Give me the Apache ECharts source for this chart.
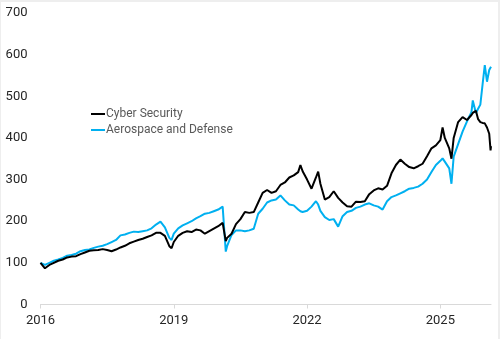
<!DOCTYPE html>
<html><head><meta charset="utf-8">
<script src="https://cdn.jsdelivr.net/npm/echarts@6/dist/echarts.min.js"></script>
<style>
html,body{margin:0;padding:0;background:#eeeeee;}
#frame{position:absolute;left:1px;top:2px;width:497px;height:337px;background:#fff;}
#chart{position:absolute;left:-1px;top:-2px;width:500px;height:339px;}
</style></head>
<body><div id="frame"><div id="chart"></div></div>
<script>
// Decimal years of the sampled points
const dates = [
 2016.0,2016.1,2016.2,2016.3,2016.4,2016.5,2016.6,2016.7,2016.8,2016.9,
 2017.0,2017.1,2017.2,2017.3,2017.4,2017.5,2017.6,2017.7,2017.8,2017.9,
 2018.0,2018.1,2018.2,2018.3,2018.4,2018.5,2018.6,2018.7,2018.8,2018.9,2018.95,
 2019.0,2019.1,2019.2,2019.3,2019.4,2019.5,2019.6,2019.7,2019.8,2019.9,
 2020.0,2020.1,2020.17,2020.2,2020.3,2020.4,2020.5,2020.6,2020.7,2020.8,2020.9,
 2021.0,2021.1,2021.2,2021.3,2021.4,2021.5,2021.6,2021.7,2021.8,2021.85,2021.9,
 2022.0,2022.1,2022.2,2022.25,2022.3,2022.4,2022.5,2022.6,2022.7,2022.8,2022.9,
 2023.0,2023.1,2023.2,2023.3,2023.4,2023.5,2023.6,2023.7,2023.8,2023.9,
 2024.0,2024.1,2024.2,2024.3,2024.4,2024.5,2024.6,2024.7,2024.8,2024.9,
 2025.0,2025.05,2025.1,2025.2,2025.25,2025.3,2025.4,2025.5,2025.6,2025.7,2025.73,2025.8,2025.85,2025.9,2025.95,
 2026.0,2026.05,2026.1,2026.13,2026.14
];
const cyber = [
 100,87,95,100,105,108,113,115,116,121,
 125,129,130,131,133,131,128,132,137,141,
 147,151,155,158,162,166,172,172,165,140,135,
 150,165,172,176,174,180,178,170,176,182,
 188,196,152,160,170,193,205,222,220,222,245,
 268,275,268,272,287,293,305,310,318,335,320,
 300,278,305,319,290,252,258,272,256,245,236,
 235,247,246,248,265,274,279,276,285,315,
 335,348,338,330,327,332,338,356,375,382,
 395,425,400,375,350,400,438,450,443,455,460,465,445,438,436,
 435,425,410,370,380
];
const aero = [
 100,95,100,105,108,112,117,119,122,128,
 131,132,136,139,141,145,150,155,166,168,
 172,175,174,176,178,183,192,199,185,160,155,
 170,183,190,195,200,207,212,218,220,224,
 228,235,127,140,167,178,178,176,178,182,218,
 230,245,250,252,262,250,240,238,228,224,222,
 225,235,248,240,225,210,203,205,187,212,222,
 225,232,235,240,243,238,235,228,248,258,
 262,267,272,278,280,283,290,300,318,335,
 345,351,343,327,290,355,385,415,440,462,490,460,470,480,528,
 575,535,563,560,571
];
const seriesNames = ['Cyber Security', 'Aerospace and Defense'];
const xTicks = [2016, 2019, 2022, 2025];
const yTicks = [0, 100, 200, 300, 400, 500, 600, 700];

const chart = echarts.init(document.getElementById('chart'), null, {renderer: 'canvas'});
const font = 'Roboto, "Liberation Sans", Arial, sans-serif';
chart.setOption({
  animation: false,
  backgroundColor: 'transparent',
  grid: {left: 40.5, right: 9, top: 13, bottom: 34.5, containLabel: false},
  legend: {
    orient: 'vertical', left: 86, top: 103, itemGap: 4,
    itemWidth: 14, itemHeight: 2, icon: 'rect',
    textStyle: {fontFamily: font, fontSize: 12, color: '#595959', padding: [0,0,0,-4]},
    data: seriesNames
  },
  xAxis: {
    type: 'value', min: 2016, max: 2026.14,
    axisLine: {show: true, lineStyle: {color: '#d9d9d9', width: 1}},
    axisTick: {show: true, length: 4, lineStyle: {color: '#d9d9d9'}, customValues: xTicks},
    axisLabel: {fontFamily: font, fontSize: 13, color: '#262626', margin: 10, customValues: xTicks,
      formatter: v => String(Math.round(v))},
    splitLine: {show: false}
  },
  yAxis: {
    type: 'value', min: 0, max: 700, interval: 100,
    axisLine: {show: false}, axisTick: {show: false},
    axisLabel: {fontFamily: font, fontSize: 13, color: '#262626', margin: 13, customValues: yTicks},
    splitLine: {show: false}
  },
  series: [
    {name: seriesNames[0], type: 'line', symbol: 'none', z: 3,
     lineStyle: {color: '#000000', width: 2}, itemStyle: {color: '#000000'},
     data: dates.map((d, i) => [d, cyber[i]])},
    {name: seriesNames[1], type: 'line', symbol: 'none', z: 2,
     lineStyle: {color: '#00B0F0', width: 2}, itemStyle: {color: '#00B0F0'},
     data: dates.map((d, i) => [d, aero[i]])}
  ]
});
</script></body></html>
